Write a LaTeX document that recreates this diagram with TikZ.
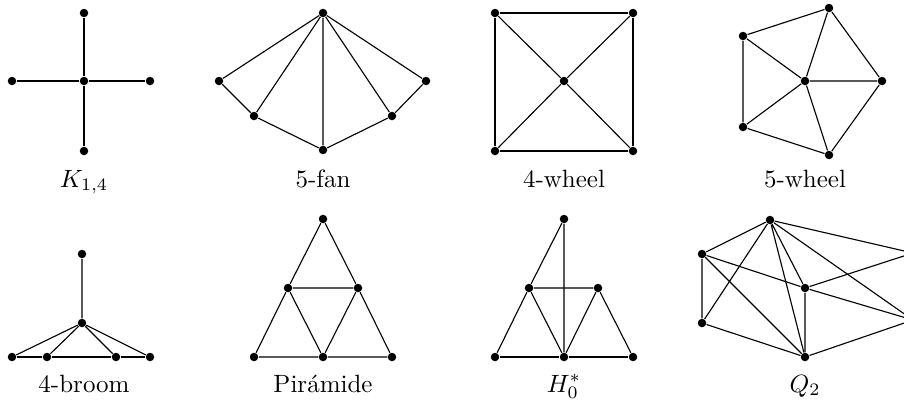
\documentclass[tikz,border=0pt]{standalone}
\begin{document}
\begin{tikzpicture}[x=0.4pt,y=-0.4pt,
  vtx/.style={circle,fill=black,inner sep=0pt,minimum size=3.4pt},
  edge/.style={line width=0.45pt},
  lbl/.style={anchor=base,inner sep=0pt}]
\clip (0,0) rectangle (904,402);
% K_{1,4}
\node[vtx] (ka) at (84,81) {};
\node[vtx] (kt) at (84,13) {};
\node[vtx] (kb) at (84,151) {};
\node[vtx] (kl) at (12,81) {};
\node[vtx] (kr) at (150,81) {};
\draw[edge] (ka)--(kt) (ka)--(kb) (ka)--(kl) (ka)--(kr);
\node[lbl] (klab) at (84,187) {$K_{1,4}$};
% 5-fan
\node[vtx] (ft) at (323,13) {};
\node[vtx] (f1) at (219,81) {};
\node[vtx] (f2) at (254,116) {};
\node[vtx] (f3) at (323,150) {};
\node[vtx] (f4) at (392,116) {};
\node[vtx] (f5) at (426,81) {};
\draw[edge] (ft)--(f1) (ft)--(f2) (ft)--(f3) (ft)--(f4) (ft)--(f5);
\draw[edge] (f1)--(f2)--(f3)--(f4)--(f5);
\node[lbl] (flab) at (323,187) {5-fan};
% 4-wheel
\node[vtx] (w1) at (495,13) {};
\node[vtx] (w2) at (633,13) {};
\node[vtx] (w3) at (633,151) {};
\node[vtx] (w4) at (495,151) {};
\node[vtx] (wc) at (564,81) {};
\draw[edge] (w1)--(w2)--(w3)--(w4)--(w1);
\draw[edge] (wc)--(w1) (wc)--(w2) (wc)--(w3) (wc)--(w4);
\node[lbl] (wlab) at (564,187) {4-wheel};
% 5-wheel
\node[vtx] (v0) at (805,81) {};
\node[vtx] (v1) at (829,8) {};
\node[vtx] (v2) at (882,81) {};
\node[vtx] (v3) at (829,155) {};
\node[vtx] (v4) at (743,127) {};
\node[vtx] (v5) at (743,36) {};
\draw[edge] (v1)--(v2)--(v3)--(v4)--(v5)--(v1);
\draw[edge] (v0)--(v1) (v0)--(v2) (v0)--(v3) (v0)--(v4) (v0)--(v5);
\node[lbl] (vlab) at (805,187) {5-wheel};
% 4-broom
\node[vtx] (bt) at (82,254) {};
\node[vtx] (bc) at (82,323) {};
\node[vtx] (b1) at (12,357) {};
\node[vtx] (b2) at (47,357) {};
\node[vtx] (b3) at (116,357) {};
\node[vtx] (b4) at (150,357) {};
\draw[edge] (bt)--(bc) (bc)--(b1) (bc)--(b2) (bc)--(b3) (bc)--(b4);
\draw[edge] (b1)--(b2)--(b3)--(b4);
\node[lbl] (blab) at (84,392) {4-broom};
% Piramide
\node[vtx] (pt) at (323,219) {};
\node[vtx] (pl) at (288,288) {};
\node[vtx] (pr) at (358,288) {};
\node[vtx] (p1) at (254,357) {};
\node[vtx] (p2) at (323,357) {};
\node[vtx] (p3) at (392,357) {};
\draw[edge] (pt)--(pl)--(p1)--(p2)--(p3)--(pr)--(pt);
\draw[edge] (pl)--(pr)--(p2)--(pl);
\node[lbl] (plab) at (323,392) {Pirámide};
% H_0^*
\node[vtx] (ht) at (564,219) {};
\node[vtx] (hl) at (529,288) {};
\node[vtx] (hr) at (598,288) {};
\node[vtx] (h1) at (495,357) {};
\node[vtx] (h2) at (564,357) {};
\node[vtx] (h3) at (633,357) {};
\draw[edge] (ht)--(hl) (ht)--(h2);
\draw[edge] (hl)--(hr) (hl)--(h1) (hl)--(h2) (hr)--(h2) (hr)--(h3);
\draw[edge] (h1)--(h2)--(h3);
\node[lbl] (hlab) at (564,392) {$H_0^*$};
% Q_2
\node[vtx] (qt) at (770,220) {};
\node[vtx] (qa) at (702,254) {};
\node[vtx] (qb) at (702,323) {};
\node[vtx] (qc) at (805,288) {};
\node[vtx] (qd) at (805,357) {};
\node[vtx] (qe) at (913,253) {};
\node[vtx] (qf) at (913,320) {};
\draw[edge] (qt)--(qa) (qt)--(qb) (qt)--(qc) (qt)--(qd) (qt)--(qe) (qt)--(qf);
\draw[edge] (qa)--(qb) (qa)--(qc) (qa)--(qd) (qb)--(qd);
\draw[edge] (qc)--(qd) (qc)--(qe) (qc)--(qf) (qd)--(qf) (qe)--(qf);
\node[lbl] (qlab) at (805,392) {$Q_2$};
\end{tikzpicture}
\end{document}
